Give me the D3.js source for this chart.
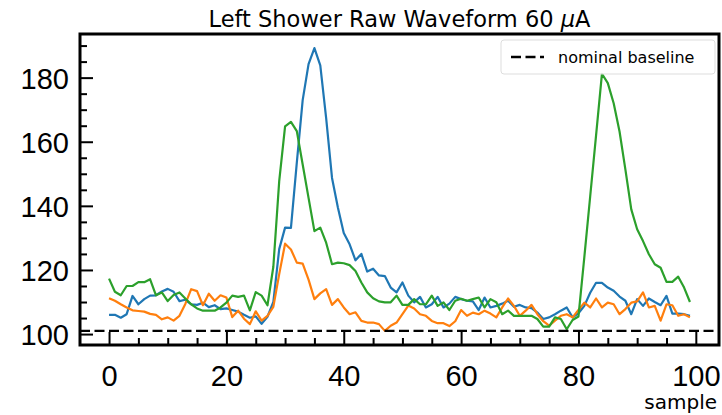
<!DOCTYPE html>
<html>
<head>
<meta charset="utf-8">
<script src="https://cdn.jsdelivr.net/npm/d3@7"></script>
<style>
  body { margin: 0; background: #fff; }
  svg { display: block; font-family: "DejaVu Sans", sans-serif; }
  .waveform__line { fill: none; stroke-width: 2.2; stroke-linejoin: round; }
  .waveform__axis path { display: none; }
  .waveform__axis line { stroke: #000; stroke-width: 2; }
  .waveform__axis text { font-size: 29px; fill: #000; }
</style>
</head>
<body>
<div id="chart"></div>
<script>
const samples = d3.range(100);

const channelA = [
  106.0, 106.0, 105.1, 106.2, 111.9, 109.3, 110.9, 112.0, 112.1, 113.3,
  114.1, 113.2, 110.3, 110.7, 109.3, 109.1, 109.8, 108.4, 109.0, 107.8,
  108.0, 107.5, 107.0, 106.0, 105.1, 105.5, 103.2, 105.4, 110.0, 126.5,
  133.2, 133.1, 153.5, 173.0, 184.2, 189.2, 183.8, 167.4, 148.7, 139.5,
  131.5, 128.0, 123.0, 125.0, 119.5, 120.4, 118.3, 118.1, 114.5, 113.0,
  116.1, 112.0, 109.9, 111.6, 108.3, 109.3, 111.6, 108.3, 109.5, 111.6,
  110.9, 110.4, 110.2, 107.5, 111.4, 108.3, 108.8, 109.5, 110.4, 108.5,
  109.1, 108.3, 108.1, 106.7, 104.7, 105.2, 106.2, 107.3, 108.3, 105.2,
  106.5, 108.8, 112.9, 116.0, 116.0, 114.5, 113.5, 111.7, 110.4, 106.2,
  110.9, 108.8, 111.1, 110.0, 109.0, 111.9, 106.4, 106.4, 106.2, 105.7,
];

const channelB = [
  111.2, 110.4, 109.3, 108.3, 107.4, 107.2, 107.0, 106.3, 106.0, 104.6,
  105.2, 104.2, 105.7, 109.4, 114.0, 113.4, 109.0, 112.6, 110.4, 112.1,
  111.4, 105.3, 107.3, 104.8, 103.1, 107.1, 104.2, 105.7, 108.5, 118.7,
  128.2, 126.4, 122.3, 122.0, 117.0, 110.9, 112.7, 114.0, 109.1, 110.9,
  108.3, 106.2, 106.8, 104.1, 103.6, 103.6, 103.1, 101.0, 102.6, 103.6,
  106.2, 108.9, 108.0, 106.2, 105.7, 104.1, 103.4, 103.4, 102.5, 104.0,
  107.5, 105.7, 106.7, 106.2, 107.3, 106.4, 105.2, 108.3, 111.1, 108.8,
  105.7, 107.3, 109.1, 106.2, 104.0, 102.6, 104.2, 105.7, 106.2, 105.2,
  107.5, 109.8, 108.3, 111.1, 108.3, 109.8, 109.3, 106.2, 107.8, 109.8,
  110.2, 113.0, 108.3, 108.8, 104.2, 109.3, 109.0, 105.7, 106.2, 105.2,
];

const channelC = [
  117.3, 113.2, 112.1, 115.0, 115.0, 116.2, 116.2, 117.1, 112.1, 113.0,
  110.3, 112.2, 113.0, 111.1, 109.3, 108.0, 107.3, 107.3, 107.3, 108.3,
  109.8, 112.0, 111.6, 112.0, 107.4, 113.1, 112.0, 109.0, 121.0, 147.7,
  164.8, 166.2, 163.3, 152.9, 142.5, 132.1, 133.2, 128.5, 121.8, 122.3,
  122.1, 121.5, 119.7, 116.1, 113.0, 111.2, 110.2, 109.9, 109.9, 112.0,
  109.1, 109.1, 110.9, 109.3, 109.3, 112.0, 108.8, 109.9, 107.5, 110.4,
  111.0, 110.4, 110.9, 111.4, 108.3, 110.9, 109.9, 106.2, 107.3, 105.7,
  105.7, 105.7, 105.7, 104.7, 102.3, 102.3, 105.2, 104.7, 101.5, 104.4,
  105.5, 124.0, 143.0, 162.0, 181.2, 178.3, 172.0, 163.2, 151.3, 138.9,
  132.7, 129.0, 124.9, 121.8, 120.7, 116.3, 116.3, 117.9, 114.5, 110.0,
];

const baseline = 101;
const xTicks = [0, 20, 40, 60, 80, 100];
const yTicks = [100, 120, 140, 160, 180];

const seriesColors = ['#1f77b4', '#ff7f0e', '#2ca02c'];

const width = 722;
const height = 415;
const margin = { top: 34, right: 3, bottom: 70, left: 80 };
const innerWidth = width - margin.left - margin.right;
const innerHeight = height - margin.top - margin.bottom;

const svg = d3.select('#chart')
  .append('svg')
  .attr('width', width)
  .attr('height', height);

const plot = svg.append('g')
  .attr('transform', `translate(${margin.left}, ${margin.top})`);

// matplotlib style 5% padding around the data
const pad = (lo, hi) => [lo - (hi - lo) * 0.05, hi + (hi - lo) * 0.05];

const allValues = channelA.concat(channelB, channelC, [baseline]);

const scaleX = d3.scaleLinear()
  .domain(pad(d3.min(samples), d3.max(samples)))
  .range([0, innerWidth]);

const scaleY = d3.scaleLinear()
  .domain(pad(d3.min(allValues), d3.max(allValues)))
  .range([innerHeight, 0]);

const minorX = d3.range(0, 101, 5).filter(d => d % 20 !== 0);
const minorY = d3.range(100, 195, 5).filter(d => d % 20 !== 0);

// minor ticks (inward, no labels)
plot.append('g')
  .attr('class', 'waveform__axis')
  .attr('transform', `translate(0, ${innerHeight})`)
  .call(d3.axisTop(scaleX).tickValues(minorX).tickSize(7).tickFormat(''))
  .selectAll('text').remove();

plot.append('g')
  .attr('class', 'waveform__axis')
  .call(d3.axisRight(scaleY).tickValues(minorY).tickSize(7).tickFormat(''))
  .selectAll('text').remove();

// major ticks
const xAxis = plot.append('g')
  .attr('class', 'waveform__axis')
  .attr('transform', `translate(0, ${innerHeight})`)
  .call(d3.axisTop(scaleX).tickValues(xTicks).tickSize(13).tickFormat(d3.format('d')));

xAxis.selectAll('text')
  .attr('y', 41)
  .attr('dy', 0)
  .attr('text-anchor', 'middle');

const yAxis = plot.append('g')
  .attr('class', 'waveform__axis')
  .call(d3.axisRight(scaleY).tickValues(yTicks).tickSize(13).tickFormat(d3.format('d')));

yAxis.selectAll('text')
  .attr('x', -11)
  .attr('dy', '0.36em')
  .attr('text-anchor', 'end');

const line = d3.line()
  .x((d, i) => scaleX(samples[i]))
  .y(d => scaleY(d));

[channelA, channelB, channelC].forEach((values, i) => {
  plot.append('path')
    .datum(values)
    .attr('class', 'waveform__line')
    .attr('stroke', seriesColors[i])
    .attr('d', line);
});

plot.append('line')
  .attr('x1', 0)
  .attr('x2', innerWidth)
  .attr('y1', scaleY(baseline))
  .attr('y2', scaleY(baseline))
  .attr('stroke', '#000')
  .attr('stroke-width', 2.4)
  .attr('stroke-dasharray', '10,4.5');

// frame
plot.append('rect')
  .attr('width', innerWidth)
  .attr('height', innerHeight)
  .attr('fill', 'none')
  .attr('stroke', '#000')
  .attr('stroke-width', 3);

// legend
const legend = plot.append('g')
  .attr('transform', `translate(${innerWidth - 218}, 6)`);

legend.append('rect')
  .attr('width', 214)
  .attr('height', 34)
  .attr('rx', 3)
  .attr('fill', '#fff')
  .attr('fill-opacity', 0.8)
  .attr('stroke', '#ddd');

legend.append('line')
  .attr('x1', 10)
  .attr('x2', 43)
  .attr('y1', 17)
  .attr('y2', 17)
  .attr('stroke', '#000')
  .attr('stroke-width', 2.4)
  .attr('stroke-dasharray', '10,4.5');

legend.append('text')
  .attr('x', 57)
  .attr('y', 17)
  .attr('dy', '0.35em')
  .style('font-size', '16px')
  .text('nominal baseline');

// title and axis label
const title = svg.append('text')
  .attr('x', margin.left + innerWidth / 2)
  .attr('y', 27)
  .attr('text-anchor', 'middle')
  .style('font-size', '22.5px');

title.append('tspan').text('Left Shower Raw Waveform 60 ');
title.append('tspan').style('font-style', 'italic').text('μ');
title.append('tspan').text('A');

svg.append('text')
  .attr('x', width - 5)
  .attr('y', 409)
  .attr('text-anchor', 'end')
  .style('font-size', '20px')
  .text('sample');
</script>
</body>
</html>
